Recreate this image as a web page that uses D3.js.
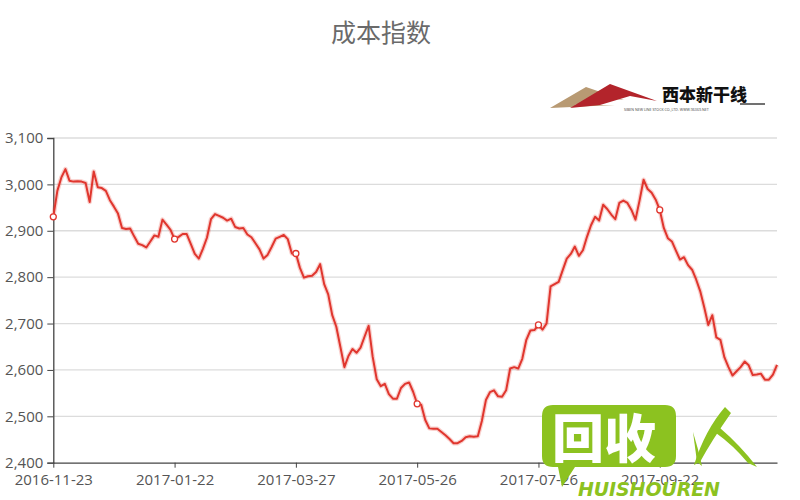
<!DOCTYPE html>
<html><head><meta charset="utf-8">
<script src="https://cdn.jsdelivr.net/npm/d3@7/dist/d3.min.js"></script>
<style>body{margin:0;background:#fff}svg{display:block}</style>
</head><body><svg id="c" width="800" height="500"></svg>
<script>
const title = "成本指数";
const tickDates = ["2016-11-23","2017-01-22","2017-03-27","2017-05-26","2017-07-26","2017-09-22"];
const tickStep = 30;
const yTicks = [2400,2500,2600,2700,2800,2900,3000,3100];
const values = [
2930,2986,3015,3033,3008,3006,3007,3006,3003,2962,
3028,2994,2992,2986,2966,2952,2937,2906,2904,2905,
2888,2872,2869,2864,2877,2890,2887,2924,2913,2902,
2882,2887,2893,2893,2872,2850,2840,2861,2885,2925,
2936,2932,2928,2922,2926,2908,2905,2906,2892,2886,
2873,2860,2840,2848,2865,2883,2887,2891,2882,2851,
2851,2820,2799,2802,2803,2811,2828,2785,2763,2718,
2693,2650,2606,2630,2645,2637,2648,2672,2695,2628,
2580,2565,2570,2548,2538,2538,2561,2570,2573,2553,
2527,2525,2492,2474,2473,2473,2466,2459,2451,2442,
2442,2447,2455,2457,2456,2457,2490,2535,2552,2556,
2543,2542,2556,2603,2606,2603,2624,2665,2685,2686,
2697,2687,2700,2780,2785,2790,2815,2840,2850,2866,
2846,2858,2887,2912,2930,2922,2956,2947,2935,2925,
2960,2965,2960,2945,2924,2965,3010,2990,2982,2967,
2945,2906,2884,2877,2857,2838,2843,2826,2816,2795,
2770,2735,2697,2718,2670,2665,2627,2606,2588,2597,
2606,2618,2610,2589,2590,2592,2579,2579,2590,2611];

(function () {
const svg = d3.select("#c");
const pL = 53.3, pR = 777, pT = 138, pB = 462.7;
const x = d3.scaleLinear().domain([0, values.length - 1]).range([pL, pR]);
const y = d3.scaleLinear().domain([2400, 3100]).range([pB, pT]);
const font = "'Open Sans', 'Noto Sans', sans-serif";

svg.append("text").attr("x", 381).attr("y", 42).attr("text-anchor", "middle")
  .attr("font-family", "'Noto Sans CJK SC', sans-serif").attr("font-size", 25)
  .attr("fill", "#6a6a6a").text(title);

// logo
const logo = svg.append("g");
logo.append("path").attr("d", "M550,108 L586,87 L624,100 L602,97 L575,105 L615,105 Z").attr("fill", "#b89a73");
logo.append("path").attr("d", "M570,108 L610,84 L657,101 L630,96 L600,105 Z").attr("fill", "#b3242b");
logo.append("text").attr("x", 662).attr("y", 101).attr("font-family", "'Noto Sans CJK SC', sans-serif")
  .attr("font-size", 17).attr("font-weight", 900).attr("fill", "#111").text("西本新干线");
logo.append("line").attr("x1", 740).attr("x2", 765).attr("y1", 104).attr("y2", 104).attr("stroke", "#111").attr("stroke-width", 1.2);
logo.append("text").attr("x", 624).attr("y", 111).attr("font-family", font).attr("font-size", 3.6)
  .attr("fill", "#444").text("SIBEN NEW LINE STOCK CO.,LTD.     WWW.96369.NET");

// grid
svg.append("g").selectAll("line").data(yTicks.filter(d => d > 2400)).join("line")
  .attr("x1", pL).attr("x2", pR).attr("y1", d => y(d)).attr("y2", d => y(d))
  .attr("stroke", "#dcdcdc").attr("stroke-width", 1.3);

// y axis
const yAxis = svg.append("g").attr("transform", `translate(${pL},0)`)
  .call(d3.axisLeft(y).tickValues(yTicks).tickFormat(d3.format(",")).tickSize(6).tickPadding(4));
yAxis.select(".domain").attr("stroke", "#444").attr("stroke-width", 1.3);
yAxis.selectAll(".tick line").attr("stroke", "#444");
yAxis.selectAll("text").attr("font-family", font).attr("font-size", 15).attr("fill", "#555");

// x axis
const xIdx = tickDates.map((d, i) => i * tickStep);
const xAxis = svg.append("g").attr("transform", `translate(0,${pB})`)
  .call(d3.axisBottom(x).tickValues(xIdx).tickFormat((d, i) => tickDates[i]).tickSize(5).tickPadding(7).tickSizeOuter(0));
xAxis.select(".domain").attr("stroke", "#444").attr("stroke-width", 1.3);
xAxis.selectAll(".tick line").attr("stroke", "#444");
xAxis.selectAll("text").attr("font-family", font).attr("font-size", 15).attr("fill", "#555");

// line
const line = d3.line().x((d, i) => x(i)).y(d => y(d));
svg.append("path").datum(values).attr("d", line).attr("fill", "none")
  .attr("stroke", "rgba(230,70,60,0.25)").attr("stroke-width", 4.5).attr("stroke-linejoin", "round");
svg.append("path").datum(values).attr("d", line).attr("fill", "none")
  .attr("stroke", "#e0362e").attr("stroke-width", 2).attr("stroke-linejoin", "round");
svg.append("g").selectAll("circle").data(xIdx).join("circle")
  .attr("cx", d => x(d)).attr("cy", d => y(values[d])).attr("r", 3)
  .attr("fill", "#fff").attr("stroke", "#e0362e").attr("stroke-width", 1.3);

// watermark
const wm = svg.append("g");
const green = "#8cc220";
wm.append("path").attr("d", "M553,405 L665,405 Q676,405 676,416 L676,456 Q676,467 665,467 L575,467 L562,487 L558,467 L553,467 Q542,467 542,456 L542,416 Q542,405 553,405 Z").attr("fill", green);
wm.append("text").attr("x", 552).attr("y", 458).attr("font-family", "'Noto Sans CJK SC', sans-serif")
  .attr("font-size", 52).attr("font-weight", 900).attr("fill", "#fff").text("回收");
wm.append("path").attr("d", "M694,465 Q705,430 725,407 L731,413 Q712,440 700,462 Z").attr("fill", green);
wm.append("path").attr("d", "M720,428 Q740,445 757,467 L748,463 Q733,445 716,433 Z").attr("fill", green);
wm.append("path").attr("d", "M693,432 Q698,448 702,466 L697,462 Z").attr("fill", green);
wm.append("text").attr("x", 578).attr("y", 496).attr("font-family", "'DejaVu Sans', sans-serif")
  .attr("font-size", 19).attr("font-weight", "bold").attr("font-style", "italic")
  .attr("fill", green).attr("textLength", 142).text("HUISHOUREN");
})();
</script></body></html>
